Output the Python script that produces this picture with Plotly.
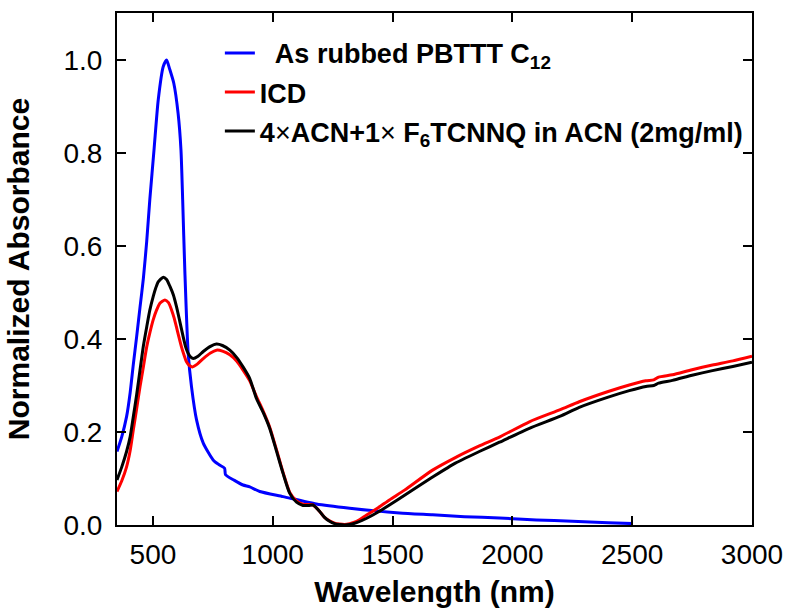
import plotly.graph_objects as go

# ---- data ----
wl_rubbed = [350, 370, 390, 405, 418, 432, 446, 460, 474, 487, 505, 522, 543, 557, 570, 587, 605, 617,
             624, 633, 647, 661, 682, 710, 751, 775, 799, 803, 840, 876, 904, 946, 1043, 1182,
             1321, 1529, 1667, 1800, 1946, 2100, 2250, 2400, 2500]
abs_rubbed = [0.158, 0.19, 0.233, 0.285, 0.345, 0.405, 0.468, 0.53, 0.61, 0.70, 0.81, 0.914, 0.986, 1.0,
              0.98, 0.95, 0.885, 0.806, 0.70, 0.548, 0.369, 0.297, 0.226, 0.176, 0.14, 0.13,
              0.122, 0.108, 0.096, 0.086, 0.082, 0.072, 0.061, 0.045, 0.036, 0.026, 0.022,
              0.018, 0.015, 0.011, 0.008, 0.005, 0.003]

wl_icd = [350, 370, 390, 405, 418, 432, 446, 460, 474, 487, 501, 515, 529, 550, 565, 578, 588, 598,
          608, 619, 630, 640, 652, 665, 685, 710, 740, 765, 790, 821, 850, 876, 904, 932, 960, 987,
          1015, 1043, 1071, 1099, 1126, 1150, 1168, 1182, 1196, 1215, 1237, 1258, 1279, 1300,
          1321, 1350, 1390, 1440, 1487, 1550, 1667, 1762, 1862, 1946, 2071, 2200, 2279, 2400,
          2488, 2557, 2590, 2610, 2668, 2750, 2835, 2920, 3000]
abs_icd = [0.072, 0.095, 0.125, 0.16, 0.204, 0.25, 0.297, 0.34, 0.383, 0.413, 0.441, 0.462, 0.477,
           0.484, 0.478, 0.462, 0.446, 0.426, 0.405, 0.383, 0.365, 0.351, 0.343, 0.340, 0.346,
           0.358, 0.370, 0.376, 0.374, 0.366, 0.352, 0.333, 0.31, 0.276, 0.245, 0.211, 0.163,
           0.113, 0.07, 0.052, 0.045, 0.044, 0.043, 0.037, 0.029, 0.017, 0.009, 0.004, 0.002,
           0.001, 0.003, 0.008, 0.021, 0.037, 0.054, 0.075, 0.118, 0.145, 0.170, 0.189, 0.222,
           0.248, 0.265, 0.287, 0.301, 0.310, 0.312, 0.318, 0.323, 0.334, 0.344, 0.353, 0.363]

wl_dop = [350, 370, 390, 405, 418, 432, 446, 460, 474, 487, 501, 512, 522, 543, 557, 571, 585, 598,
          612, 626, 637, 647, 658, 668, 688, 710, 740, 765, 790, 821, 850, 876, 904, 932, 960, 987,
          1015, 1043, 1071, 1099, 1126, 1150, 1168, 1182, 1196, 1215, 1237, 1258, 1279, 1300,
          1321, 1350, 1390, 1440, 1487, 1550, 1667, 1762, 1862, 1946, 2071, 2200, 2279, 2400,
          2488, 2557, 2590, 2610, 2668, 2750, 2835, 2920, 3000]
abs_dop = [0.097, 0.125, 0.158, 0.19, 0.233, 0.28, 0.333, 0.385, 0.426, 0.462, 0.491, 0.510, 0.523,
           0.533, 0.528, 0.513, 0.495, 0.470, 0.438, 0.405, 0.382, 0.369, 0.361, 0.358, 0.363,
           0.373, 0.384, 0.389, 0.386, 0.376, 0.36, 0.340, 0.315, 0.272, 0.242, 0.208, 0.16,
           0.111, 0.068, 0.049, 0.042, 0.042, 0.043, 0.037, 0.029, 0.017, 0.008, 0.003, 0.001,
           0.0, 0.001, 0.005, 0.014, 0.028, 0.043, 0.064, 0.103, 0.133, 0.158, 0.178, 0.208,
           0.234, 0.253, 0.275, 0.289, 0.298, 0.300, 0.305, 0.311, 0.322, 0.332, 0.341, 0.350]

X_NORMAL = '<span style="font-weight:normal">\u00d7</span>'
names = ["\u00a0\u00a0As rubbed PBTTT C<sub>12</sub>",
         "ICD",
         f"4{X_NORMAL}ACN+1{X_NORMAL} F<sub>6</sub>TCNNQ in ACN (2mg/ml)"]
colors = ["#0000ff", "#ff0000", "#000000"]

x_ticks = [500, 1000, 1500, 2000, 2500, 3000]
y_ticks = [0.0, 0.2, 0.4, 0.6, 0.8, 1.0]

FONT = "Liberation Sans, Arial"

fig = go.Figure()
for i, (xs, ys) in enumerate([(wl_rubbed, abs_rubbed), (wl_icd, abs_icd), (wl_dop, abs_dop)]):
    fig.add_trace(go.Scatter(x=xs, y=ys, mode="lines", name=names[i], legendgroup=str(i),
                             line=dict(color=colors[i], width=3, shape="spline", smoothing=0.6)))

axis_common = dict(showline=True, linecolor="black", linewidth=2, mirror="ticks",
                   ticks="inside", ticklen=9, tickwidth=2, tickcolor="black",
                   showgrid=False, zeroline=False, automargin=False,
                   tickfont=dict(family=FONT, size=28, color="black"))

fig.update_xaxes(range=[350, 3000], tickvals=x_ticks, ticktext=[str(v) for v in x_ticks],
                 ticklabelstandoff=3,
                 title=dict(text="Wavelength (nm)", standoff=12,
                            font=dict(family=FONT, size=30, color="black", weight="bold")),
                 **axis_common)
fig.update_yaxes(range=[0, 1.101], tickvals=y_ticks, ticktext=[f"{v:.1f}" for v in y_ticks],
                 ticklabelstandoff=7,
                 title=dict(text="Normalized Absorbance", standoff=25,
                            font=dict(family=FONT, size=30, color="black", weight="bold")),
                 **axis_common)

fig.update_layout(
    width=790, height=611,
    margin=dict(l=117, r=38, t=13, b=86),
    paper_bgcolor="white", plot_bgcolor="white",
    showlegend=True,
    legend=dict(x=0.162, y=0.969, xanchor="left", yanchor="top",
                bgcolor="rgba(0,0,0,0)", borderwidth=0, tracegroupgap=1,
                font=dict(family=FONT, size=27, color="black", weight="bold")),
)

fig.write_html("out.html", config={"displayModeBar": False},
               post_script="document.body.style.margin='0px';")
